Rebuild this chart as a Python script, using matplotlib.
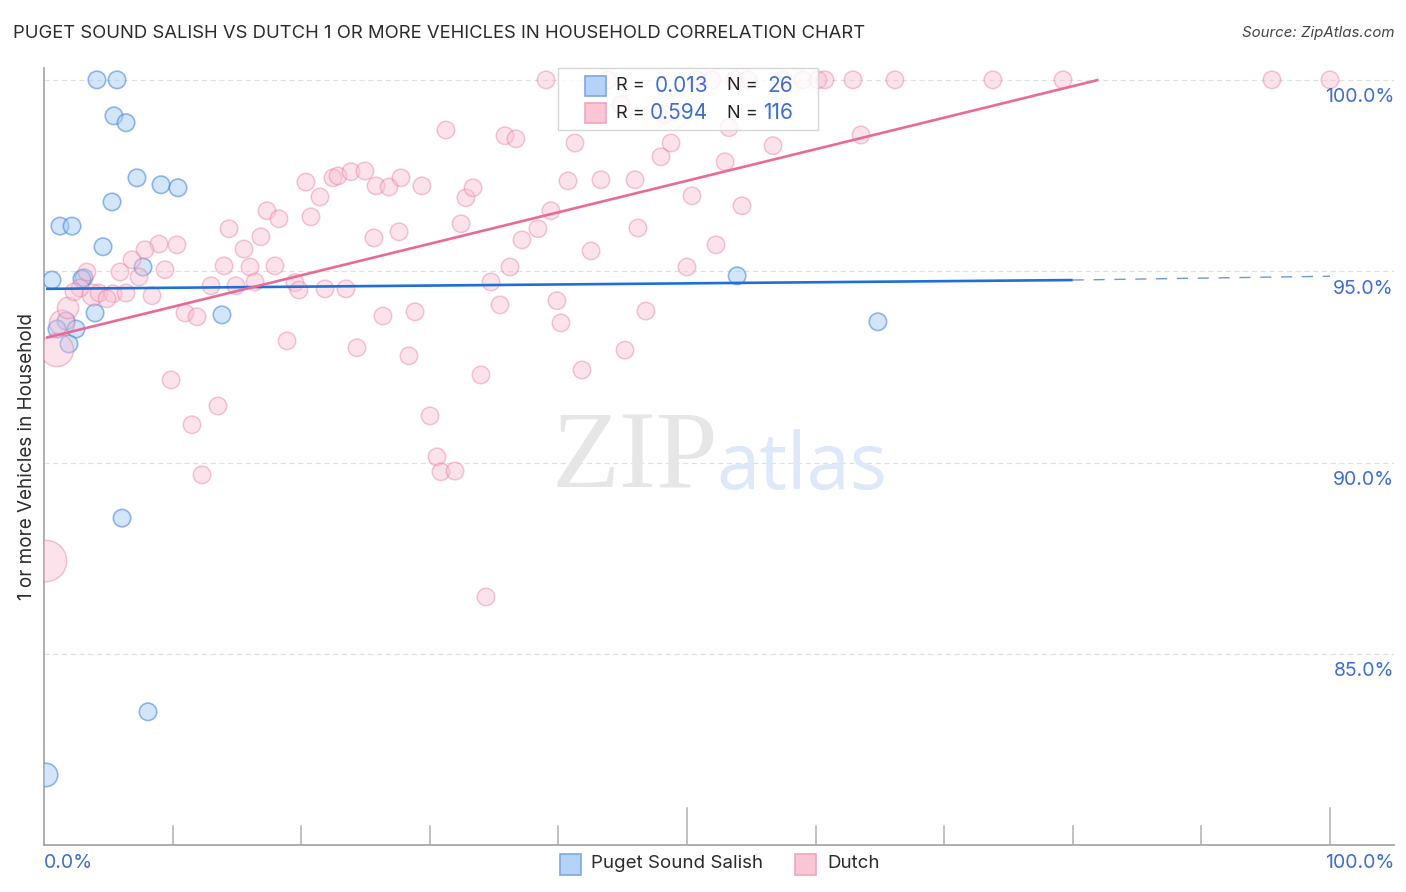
import matplotlib
matplotlib.use('Agg')
import matplotlib.pyplot as plt
from matplotlib.patches import Rectangle

W, H = 1406, 892

salish_x = [4.12, 5.68, 5.44, 6.38, 7.23, 9.10, 10.42, 5.29, 1.24, 2.18, 4.59, 7.70, 0.62,
            3.11, 2.95, 3.97, 13.84, 1.71, 1.01, 2.49, 1.94, 6.07, 8.09, 0.16, 53.9, 64.85]
salish_y = [100, 100, 99.06, 98.88, 97.44, 97.26, 97.18, 96.81, 96.18, 96.18, 95.64, 95.11, 94.77,
            94.83, 94.80, 93.91, 93.86, 93.70, 93.49, 93.49, 93.10, 88.55, 83.49, 81.84, 94.88, 93.68]
salish_w = [1] * 23 + [1.8] + [1] * 2

dutch_x = [0.16, 1.01, 1.40, 1.87, 3.81,
           39.04, 43.86, 50.78, 51.94, 53.73, 54.74, 57.39, 59.02, 60.19, 60.73, 62.91, 66.17, 73.79, 79.24, 95.49, 100,
           31.26, 35.85, 36.70, 41.29, 48.76, 47.98, 53.27, 56.69, 52.96, 63.53, 44.87, 48.29,
           40.75, 43.31, 45.96, 50.39, 54.28, 39.42, 32.81, 33.36, 20.37, 22.47, 22.86, 23.87, 24.96,
           25.82, 26.83, 27.76, 29.39, 21.46, 20.76, 17.34, 18.27, 14.39, 16.87, 15.55, 25.66, 27.61,
           8.94, 10.34, 7.85, 6.84, 5.91, 9.41, 7.39, 14.00, 16.02, 17.96, 3.34, 16.41, 19.52, 19.83,
           12.99, 14.93, 21.85, 23.48, 2.80, 2.33, 4.28, 5.37, 6.38, 4.90, 8.40, 10.96, 11.90, 26.36,
           28.85, 18.90, 24.34, 28.38, 9.88, 11.51, 13.53, 12.29, 30.02, 30.56, 30.87, 31.96, 34.37,
           33.98, 34.76, 36.24, 35.46, 37.17, 38.41, 32.43, 39.89, 40.20, 41.84, 42.54, 45.18, 46.81,
           46.19, 50.00, 52.26]
dutch_y = [87.43, 92.94, 93.65, 94.04, 94.38,
           100, 100, 100, 100, 100, 100, 100, 100, 100, 100, 100, 100, 100, 100, 100, 100,
           98.69, 98.54, 98.46, 98.35, 98.35, 97.99, 98.75, 98.28, 97.86, 98.56, 99.35, 99.09,
           97.36, 97.39, 97.39, 96.97, 96.71, 96.58, 96.92, 97.18, 97.33, 97.44, 97.49, 97.60, 97.62,
           97.23, 97.20, 97.44, 97.23, 96.94, 96.42, 96.58, 96.37, 96.11, 95.90, 95.58, 95.87, 96.03,
           95.71, 95.69, 95.56, 95.30, 94.98, 95.04, 94.85, 95.14, 95.11, 95.14, 94.98, 94.72, 94.70, 94.51,
           94.62, 94.62, 94.54, 94.54, 94.56, 94.46, 94.43, 94.41, 94.43, 94.28, 94.36, 93.91, 93.81, 93.83,
           93.94, 93.18, 93.00, 92.79, 92.16, 90.99, 91.48, 89.68, 91.22, 90.15, 89.76, 89.78, 86.49,
           92.29, 94.72, 95.11, 94.12, 95.82, 96.11, 96.24, 94.23, 93.65, 92.42, 95.53, 92.94, 93.96,
           96.13, 95.11, 95.69]
dutch_w = [5.6, 3.6, 2.1, 1.5, 1.5] + [1] * (len(dutch_x) - 5)

salish_line_x = [0.16, 80.0]
salish_line_y = [94.54, 94.77]
salish_dash_x = [80.0, 100.0]
salish_dash_y = [94.77, 94.87]
dutch_line_x = [0.16, 82.0]
dutch_line_y = [93.26, 100.0]

y_ticks = [100, 95, 90, 85]
y_labels = ['100.0%', '95.0%', '90.0%', '85.0%']
x_minor = [10, 20, 30, 40, 60, 70, 80, 90]
x_major = [50, 100]

BLUE = '#3d6fd0'
plt.rcParams['font.family'] = ['Inter', 'DejaVu Sans']

fig = plt.figure(figsize=(W / 100, H / 100), dpi=100)
ax = fig.add_axes([44 / W, 1 - 845 / H, 1350 / W, 777 / H])
ax.set_xlim(0, 104.98)
ax.set_ylim(80.01, 100.31)


def fx(px):
    return px / W


def fy(py):
    return 1 - py / H


for s in ['top', 'right']:
    ax.spines[s].set_visible(False)
for s in ['left', 'bottom']:
    ax.spines[s].set_color('#a8a8a8')
    ax.spines[s].set_linewidth(1.3)
ax.set_xticks([])
ax.set_yticks([])

for v in y_ticks:
    ax.axhline(v, color='#e0e0e0', lw=0.9, ls=(0, (4, 3)), zorder=1)
for v in x_minor:
    ax.plot([v, v], [80.01, 80.5], color='#b0b0b0', lw=1.1, zorder=1)
for v in x_major:
    ax.plot([v, v], [80.01, 80.97], color='#b0b0b0', lw=1.1, zorder=1)

# watermark
ax.text(0.438, 0.495, 'ZIP', transform=ax.transAxes, family='Liberation Serif', fontsize=80,
        color='#e6e6e6', ha='center', va='center', zorder=1)
ax.text(0.5615, 0.485, 'atlas', transform=ax.transAxes, family='Open Sans', fontsize=56,
        color='#dde9f9', ha='center', va='center', zorder=1)

base = 158
ax.scatter(salish_x, salish_y, s=[w * base for w in salish_w], facecolor=(0.66, 0.80, 0.96, 0.5),
           edgecolor=(0.25, 0.51, 0.88, 0.55), linewidth=1.2, zorder=3)
ax.scatter(dutch_x, dutch_y, s=[w * base for w in dutch_w], facecolor=(0.98, 0.74, 0.82, 0.42),
           edgecolor=(0.91, 0.45, 0.60, 0.4), linewidth=1.1, zorder=3)

ax.plot(salish_line_x, salish_line_y, color='#1f6fd6', lw=1.9, zorder=4, solid_capstyle='butt')
ax.plot(salish_dash_x, salish_dash_y, color='#6b9bd6', lw=1.0, ls=(0, (8, 7)), zorder=4)
ax.plot(dutch_line_x, dutch_line_y, color='#ea6a97', lw=1.9, zorder=4, solid_capstyle='butt')

for v, lab in zip(y_ticks, y_labels):
    ax.annotate(lab, (1, v), xycoords=('axes fraction', 'data'), xytext=(0, -12.5), textcoords='offset points',
                ha='right', va='center', color=BLUE, fontsize=14)

fig.text(fx(13), fy(33), 'PUGET SOUND SALISH VS DUTCH 1 OR MORE VEHICLES IN HOUSEHOLD CORRELATION CHART',
         fontsize=13.3, color='#2b2b2b', va='center', ha='left')
fig.text(fx(1394), fy(33), 'Source: ZipAtlas.com', fontsize=10.8, style='italic', color='#444444',
         va='center', ha='right')
fig.text(fx(27), fy(456), '1 or more Vehicles in Household', rotation=90, fontsize=13.6, color='#2b2b2b',
         va='center', ha='center')
fig.text(fx(44), fy(863), '0.0%', fontsize=14, color=BLUE, va='center', ha='left')
fig.text(fx(1394), fy(863), '100.0%', fontsize=14, color=BLUE, va='center', ha='right')

# top legend
fig.add_artist(Rectangle((fx(558), fy(130)), 260 / W, 62 / H, transform=fig.transFigure, facecolor='white',
                         alpha=0.8, edgecolor='none', zorder=5))
fig.add_artist(Rectangle((fx(558), fy(130)), 260 / W, 62 / H, transform=fig.transFigure, fill=False,
                         edgecolor='#d6d6d6', lw=1, zorder=6))
rows = [(86, '#b5d2f8', '#7ea8e0', '0.013', '26'), (113, '#fac6d6', '#f2a5be', '0.594', '116')]
for py, fc, ec, r_val, n_val in rows:
    fig.add_artist(Rectangle((fx(585), fy(py + 10)), 21 / W, 20 / H, transform=fig.transFigure, facecolor=fc,
                             edgecolor=ec, lw=1.2, zorder=7))
    fig.text(fx(616), fy(py), 'R =', fontsize=13, color='#222222', va='center', ha='left', zorder=7)
    fig.text(fx(708), fy(py), r_val, fontsize=15, color=BLUE, va='center', ha='right', zorder=7)
    fig.text(fx(727), fy(py), 'N =', fontsize=13, color='#222222', va='center', ha='left', zorder=7)
    fig.text(fx(793), fy(py), n_val, fontsize=15, color=BLUE, va='center', ha='right', zorder=7)

# bottom legend
fig.add_artist(Rectangle((fx(560), fy(875)), 21 / W, 21 / H, transform=fig.transFigure, facecolor='#b5d2f8',
                         edgecolor='#7ea8e0', lw=1.2))
fig.text(fx(591), fy(864), 'Puget Sound Salish', fontsize=13.5, color='#2b2b2b', va='center', ha='left')
fig.add_artist(Rectangle((fx(795), fy(875)), 21 / W, 21 / H, transform=fig.transFigure, facecolor='#fac6d6',
                         edgecolor='#f2a5be', lw=1.2))
fig.text(fx(827), fy(864), 'Dutch', fontsize=13.5, color='#2b2b2b', va='center', ha='left')

fig.savefig('out.png', dpi=100)
